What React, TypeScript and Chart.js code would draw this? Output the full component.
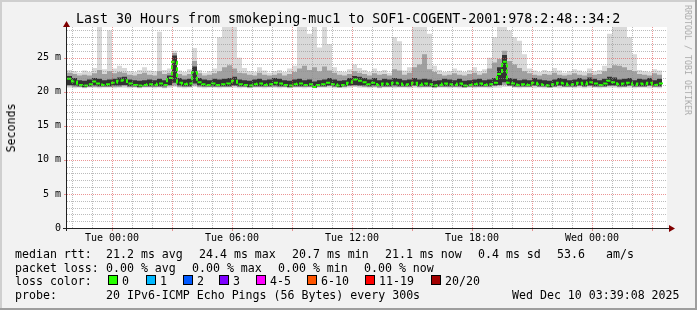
import React, { useEffect, useRef } from "react";
import { Chart, registerables } from "chart.js";

Chart.register(...registerables);

// time axis: hours relative to Tue 00:00, one sample every 15 minutes
const T0 = -2.25;
const STEP = 0.25;

// median round trip time (ms)
const medianRtt = [
  21.9, 21.5, 21.0, 20.9, 21.1, 21.5, 21.2, 21.0, 21.1, 21.3,
  21.6, 21.7, 21.2, 21.0, 20.9, 21.0, 21.1, 21.0, 21.2, 21.0,
  22.0, 24.4, 21.3, 21.1, 21.2, 22.9, 21.4, 21.1, 21.0, 21.2,
  21.0, 21.1, 21.2, 21.6, 21.1, 21.0, 20.9, 21.1, 21.2, 21.0,
  21.1, 21.3, 21.2, 21.0, 20.9, 21.1, 21.2, 21.0, 21.1, 20.7,
  21.0, 21.1, 21.3, 21.1, 20.9, 21.0, 21.3, 21.8, 21.6, 21.4,
  21.1, 21.3, 21.0, 21.2, 21.1, 21.3, 21.2, 21.0, 21.1, 21.3,
  21.0, 21.2, 21.1, 20.9, 21.0, 21.2, 21.1, 21.0, 21.2, 20.9,
  21.0, 21.1, 21.2, 21.0, 21.1, 21.3, 22.6, 24.4, 21.3, 21.2,
  21.0, 21.1, 21.0, 21.3, 21.1, 21.0, 20.9, 21.1, 21.3, 21.2,
  21.0, 21.1, 21.3, 21.1, 21.4, 21.2, 21.0, 21.2, 21.6, 21.4,
  21.1, 21.2, 21.3, 21.0, 21.2, 21.1, 21.3, 21.0, 21.2, 21.1,
];

// smoke: fastest / slowest ping of each round (ms)
const minRtt = [
  20.6, 20.5, 20.6, 20.5, 20.6, 20.6, 20.5, 20.6, 20.6, 20.5,
  20.6, 20.6, 20.5, 20.6, 20.5, 20.6, 20.6, 20.5, 20.6, 20.5,
  20.6, 20.7, 20.6, 20.5, 20.6, 20.7, 20.6, 20.5, 20.6, 20.6,
  20.5, 20.6, 20.6, 20.6, 20.5, 20.6, 20.5, 20.6, 20.6, 20.5,
  20.6, 20.6, 20.5, 20.6, 20.5, 20.6, 20.6, 20.5, 20.6, 20.5,
  20.6, 20.6, 20.6, 20.5, 20.6, 20.5, 20.6, 20.7, 20.6, 20.6,
  20.5, 20.6, 20.5, 20.6, 20.6, 20.5, 20.6, 20.6, 20.5, 20.6,
  20.5, 20.6, 20.6, 20.5, 20.6, 20.6, 20.5, 20.6, 20.5, 20.6,
  20.6, 20.5, 20.6, 20.6, 20.5, 20.6, 20.6, 20.7, 20.8, 20.6,
  20.5, 20.6, 20.6, 20.5, 20.6, 20.5, 20.6, 20.6, 20.5, 20.6,
  20.6, 20.5, 20.6, 20.5, 20.6, 20.6, 20.5, 20.6, 20.6, 20.6,
  20.5, 20.6, 20.6, 20.5, 20.6, 20.6, 20.5, 20.6, 20.5, 20.6,
];
const maxRtt = [
  23.2, 23.0, 22.8, 23.1, 22.9, 23.5, 29.5, 23.3, 29.0, 23.4,
  23.8, 23.5, 23.0, 22.9, 23.2, 23.6, 23.1, 23.0, 28.8, 23.2,
  23.4, 26.0, 23.1, 22.9, 23.3, 26.4, 23.2, 22.8, 23.0, 23.4,
  28.0, 29.5, 29.5, 29.5, 25.0, 23.5, 23.0, 22.9, 23.6, 23.1,
  22.8, 23.0, 23.2, 22.9, 23.4, 23.8, 29.5, 29.5, 28.5, 29.5,
  26.5, 29.5, 27.0, 23.6, 23.0, 22.9, 23.3, 24.0, 23.5, 23.2,
  22.9, 23.4, 23.0, 23.2, 22.8, 28.0, 27.4, 23.1, 23.6, 29.5,
  29.5, 29.5, 28.5, 23.8, 23.2, 22.9, 23.0, 23.4, 23.1, 22.9,
  23.2, 23.6, 23.0, 23.3, 25.0, 28.0, 29.5, 29.5, 29.0, 28.0,
  27.5, 25.5, 23.4, 23.1, 22.9, 23.2, 23.0, 23.5, 23.1, 22.8,
  23.0, 23.3, 23.1, 22.9, 23.4, 23.0, 23.2, 23.8, 28.5, 29.5,
  29.5, 29.5, 28.0, 25.5, 23.2, 23.0, 22.9, 23.3, 23.1, 24.0,
];
// smoke: middle band (ms)
const loMid = [
  20.8, 20.7, 20.7, 20.6, 20.7, 20.7, 20.7, 20.7, 20.7, 20.7,
  20.7, 20.8, 20.7, 20.7, 20.6, 20.7, 20.7, 20.7, 20.7, 20.6,
  20.8, 20.9, 20.7, 20.7, 20.7, 20.9, 20.7, 20.7, 20.7, 20.7,
  20.7, 20.7, 20.7, 20.8, 20.7, 20.7, 20.6, 20.7, 20.7, 20.7,
  20.7, 20.7, 20.7, 20.7, 20.6, 20.7, 20.7, 20.7, 20.7, 20.6,
  20.7, 20.7, 20.8, 20.7, 20.6, 20.7, 20.8, 20.8, 20.8, 20.7,
  20.7, 20.7, 20.6, 20.7, 20.7, 20.7, 20.7, 20.7, 20.7, 20.8,
  20.7, 20.7, 20.7, 20.6, 20.7, 20.7, 20.7, 20.7, 20.7, 20.6,
  20.7, 20.7, 20.7, 20.7, 20.7, 20.8, 20.9, 21.0, 20.8, 20.7,
  20.7, 20.7, 20.7, 20.8, 20.7, 20.7, 20.6, 20.7, 20.8, 20.7,
  20.7, 20.7, 20.8, 20.7, 20.8, 20.7, 20.7, 20.7, 20.8, 20.8,
  20.7, 20.7, 20.8, 20.7, 20.7, 20.7, 20.8, 20.7, 20.7, 20.7,
];
const hiMid = [
  22.8, 22.6, 22.4, 22.5, 22.4, 22.7, 23.2, 22.6, 23.0, 22.7,
  22.9, 22.8, 22.5, 22.4, 22.6, 22.8, 22.5, 22.4, 23.0, 22.6,
  22.8, 25.7, 22.6, 22.4, 22.6, 24.5, 22.7, 22.4, 22.5, 22.7,
  23.0, 23.6, 23.9, 23.4, 22.8, 22.7, 22.5, 22.4, 22.8, 22.5,
  22.4, 22.5, 22.7, 22.4, 22.6, 22.9, 23.4, 23.8, 23.2, 23.6,
  23.0, 23.7, 23.1, 22.8, 22.5, 22.4, 22.6, 23.0, 22.8, 22.6,
  22.4, 22.7, 22.5, 22.6, 22.4, 23.3, 23.1, 22.5, 22.8, 23.6,
  24.0, 25.5, 23.3, 22.9, 22.6, 22.4, 22.5, 22.7, 22.5, 22.4,
  22.6, 22.8, 22.5, 22.7, 23.4, 24.3, 24.8, 26.0, 24.5, 24.0,
  23.5, 23.0, 22.7, 22.5, 22.4, 22.6, 22.5, 22.8, 22.5, 22.4,
  22.5, 22.7, 22.5, 22.4, 22.7, 22.5, 22.6, 23.0, 23.5, 23.9,
  23.8, 23.6, 23.2, 23.0, 22.6, 22.5, 22.4, 22.7, 22.5, 23.0,
];
// smoke: dense inner band (ms)
const loIn = [
  21.0, 20.9, 20.8, 20.7, 20.8, 20.9, 20.8, 20.8, 20.8, 20.9,
  20.9, 21.0, 20.8, 20.8, 20.7, 20.8, 20.8, 20.8, 20.8, 20.8,
  21.0, 21.3, 20.9, 20.8, 20.8, 21.2, 20.9, 20.8, 20.8, 20.8,
  20.8, 20.8, 20.8, 20.9, 20.8, 20.8, 20.7, 20.8, 20.8, 20.8,
  20.8, 20.9, 20.8, 20.8, 20.7, 20.8, 20.8, 20.8, 20.8, 20.6,
  20.8, 20.8, 20.9, 20.8, 20.7, 20.8, 20.9, 21.0, 20.9, 20.9,
  20.8, 20.9, 20.8, 20.8, 20.8, 20.9, 20.8, 20.8, 20.8, 20.9,
  20.8, 20.8, 20.8, 20.7, 20.8, 20.8, 20.8, 20.8, 20.8, 20.7,
  20.8, 20.8, 20.8, 20.8, 20.8, 20.9, 21.0, 21.4, 20.9, 20.8,
  20.8, 20.8, 20.8, 20.9, 20.8, 20.8, 20.7, 20.8, 20.9, 20.8,
  20.8, 20.8, 20.9, 20.8, 20.9, 20.8, 20.8, 20.8, 20.9, 20.9,
  20.8, 20.8, 20.9, 20.8, 20.8, 20.8, 20.9, 20.8, 20.8, 20.8,
];
const hiIn = [
  22.3, 22.0, 21.7, 21.6, 21.8, 22.0, 21.9, 21.7, 21.8, 21.9,
  22.1, 22.2, 21.8, 21.7, 21.6, 21.7, 21.8, 21.7, 21.9, 21.7,
  22.4, 25.3, 22.0, 21.8, 21.9, 23.7, 22.0, 21.8, 21.7, 21.9,
  21.8, 21.9, 22.0, 22.2, 21.8, 21.7, 21.6, 21.8, 21.9, 21.7,
  21.8, 22.0, 21.9, 21.7, 21.6, 21.8, 21.9, 21.7, 21.8, 21.5,
  21.7, 21.8, 22.0, 21.8, 21.6, 21.7, 22.0, 22.3, 22.2, 22.0,
  21.8, 22.0, 21.7, 21.9, 21.8, 22.0, 21.9, 21.7, 21.8, 22.0,
  21.8, 21.9, 21.8, 21.6, 21.7, 21.9, 21.8, 21.7, 21.9, 21.6,
  21.7, 21.8, 21.9, 21.7, 21.8, 22.0, 23.6, 25.4, 22.0, 21.9,
  21.7, 21.8, 21.7, 22.0, 21.8, 21.7, 21.6, 21.8, 22.0, 21.9,
  21.7, 21.8, 22.0, 21.8, 22.1, 21.9, 21.7, 21.9, 22.2, 22.1,
  21.8, 21.9, 22.0, 21.7, 21.9, 21.8, 22.0, 21.7, 21.9, 21.8,
];

const xTickHours = [0, 6, 12, 18, 24];
const xTickLabels = ["Tue 00:00", "Tue 06:00", "Tue 12:00", "Tue 18:00", "Wed 00:00"];
const yTickValues = [0, 5, 10, 15, 20, 25];
const yTickLabels = ["0", "5 m", "10 m", "15 m", "20 m", "25 m"];

const lossLabels = ["0", "1", "2", "3", "4-5", "6-10", "11-19", "20/20"];
const lossColors = ["#26ff00", "#00b8ff", "#0059ff", "#7e00ff", "#ff00ff", "#ff5500", "#ff0000", "#a10000"];

const titleText = "Last 30 Hours from smokeping-muc1 to SOF1-COGENT-2001:978:2:48::34:2";
const statLine1 = ["median rtt:", "21.2 ms avg", "24.4 ms max", "20.7 ms min", "21.1 ms now", "0.4 ms sd", "53.6", "am/s"];
const statLine2 = ["packet loss:", "0.00 % avg", "0.00 % max", "0.00 % min", "0.00 % now"];
const probeLine = ["probe:", "20 IPv6-ICMP Echo Pings (56 Bytes) every 300s", "Wed Dec 10 03:39:08 2025"];

// layout (pixels)
const W = 697;
const H = 310;
const line1X = [15, 106, 199, 292, 385, 478, 557, 606];
const line2X = [15, 106, 192, 278, 364];
const boxX = [108, 145.7, 182.7, 219.3, 256, 307.3, 365, 430.7];
const probeX = [15, 106, 512];

const MONO = '"DejaVu Sans Mono", monospace';
const GRID = "rgba(143,143,143,0.6)";
const MGRID = "rgba(222,79,79,0.6)";

const rrdPlugin = {
  id: "rrdLook",
  beforeDraw(chart: any) {
    const { ctx, chartArea: a } = chart;
    ctx.save();
    ctx.fillStyle = "#f2f2f2";
    ctx.fillRect(0, 0, W, H);
    ctx.fillStyle = "#cfcfcf";
    ctx.fillRect(0, 0, W, 2);
    ctx.fillRect(0, 0, 2, H);
    ctx.fillStyle = "#9e9e9e";
    ctx.fillRect(0, H - 2, W, 2);
    ctx.fillRect(W - 2, 0, 2, H);
    ctx.fillStyle = "#ffffff";
    ctx.fillRect(a.left, a.top, a.right - a.left, a.bottom - a.top);
    ctx.restore();
  },
  afterDatasetsDraw(chart: any) {
    const { ctx, chartArea: a } = chart;
    const xs = chart.scales.x;
    const ys = chart.scales.y;
    ctx.save();
    ctx.lineWidth = 1;
    // vertical grid: every hour, major every 3 hours
    for (let h = Math.ceil(xs.min); h <= xs.max; h++) {
      const px = Math.round(xs.getPixelForValue(h)) + 0.5;
      const major = ((h % 3) + 3) % 3 === 0;
      ctx.setLineDash([1, 1]);
      ctx.strokeStyle = major ? MGRID : GRID;
      ctx.beginPath();
      ctx.moveTo(px, a.bottom);
      ctx.lineTo(px, a.top);
      ctx.stroke();
      if (major) {
        ctx.setLineDash([]);
        ctx.beginPath();
        ctx.moveTo(px, a.bottom);
        ctx.lineTo(px, a.bottom + 3);
        ctx.stroke();
      }
    }
    // horizontal grid: every 1 ms, major every 5 ms
    for (let v = 1; v <= ys.max; v++) {
      const py = Math.round(ys.getPixelForValue(v)) + 0.5;
      const major = v % 5 === 0;
      ctx.setLineDash([1, 1]);
      ctx.strokeStyle = major ? MGRID : GRID;
      ctx.beginPath();
      ctx.moveTo(a.left, py);
      ctx.lineTo(a.right, py);
      ctx.stroke();
      if (major) {
        ctx.setLineDash([]);
        ctx.beginPath();
        ctx.moveTo(a.left - 3, py);
        ctx.lineTo(a.left, py);
        ctx.stroke();
      }
    }
    ctx.setLineDash([]);
    // axes
    const ax = Math.round(a.left) - 0.5;
    const ay = Math.round(a.bottom) + 0.5;
    ctx.strokeStyle = "#212121";
    ctx.beginPath();
    ctx.moveTo(a.left - 4, ay);
    ctx.lineTo(a.right + 5, ay);
    ctx.moveTo(ax, a.bottom + 3);
    ctx.lineTo(ax, a.top - 3);
    ctx.stroke();
    // arrows
    ctx.fillStyle = "#800000";
    ctx.beginPath();
    ctx.moveTo(a.right + 2, ay - 3.5);
    ctx.lineTo(a.right + 8, ay);
    ctx.lineTo(a.right + 2, ay + 3.5);
    ctx.closePath();
    ctx.fill();
    ctx.beginPath();
    ctx.moveTo(ax - 3.5, a.top);
    ctx.lineTo(ax, a.top - 6);
    ctx.lineTo(ax + 3.5, a.top);
    ctx.closePath();
    ctx.fill();
    ctx.restore();
  },
};

const textBase: React.CSSProperties = {
  position: "absolute",
  whiteSpace: "pre",
  fontFamily: MONO,
  fontSize: "11.6px",
  lineHeight: "14px",
  color: "#000",
  margin: 0,
};

export default function App() {
  const ref = useRef<HTMLCanvasElement>(null);

  useEffect(() => {
    const canvas = ref.current;
    if (!canvas) return;
    const xs = medianRtt.map((_, i) => T0 + i * STEP);
    const pts = (arr: number[]) => arr.map((v, i) => ({ x: xs[i], y: v }));
    const band = (arr: number[], color: string, target: number | false) => ({
      data: pts(arr),
      borderWidth: 0,
      borderColor: "rgba(0,0,0,0)",
      backgroundColor: color,
      pointRadius: 0,
      stepped: true,
      fill: target,
    });
    const chart = new Chart(canvas, {
      type: "line",
      data: {
        datasets: [
          {
            data: pts(medianRtt),
            borderColor: lossColors[0],
            borderWidth: 2,
            borderDash: [4, 2],
            pointRadius: 0,
            stepped: true,
            fill: false,
          } as any,
          band(hiIn, "#333333", 2),
          band(loIn, "#333333", false),
          band(hiMid, "#a0a0a0", 4),
          band(loMid, "#a0a0a0", false),
          band(maxRtt, "#d9d9d9", 6),
          band(minRtt, "#d9d9d9", false),
        ],
      },
      options: {
        animation: false,
        responsive: false,
        devicePixelRatio: 1,
        events: [],
        layout: { padding: { left: 0, right: 30, top: 27, bottom: 0 } },
        plugins: {
          legend: { display: false },
          tooltip: { enabled: false },
          title: { display: false },
        },
        scales: {
          x: {
            type: "linear",
            min: -2.25,
            max: 27.75,
            grid: { display: false, drawTicks: false, tickLength: 0 },
            border: { display: false },
            afterBuildTicks: (s: any) => {
              s.ticks = xTickHours.map((v) => ({ value: v }));
            },
            afterFit: (s: any) => {
              s.height = 82;
            },
            ticks: {
              autoSkip: false,
              maxRotation: 0,
              minRotation: 0,
              padding: 4,
              color: "#000",
              font: { family: MONO, size: 10 },
              callback: (v: any) => {
                const k = xTickHours.indexOf(Number(v));
                return k >= 0 ? xTickLabels[k] : "";
              },
            },
          },
          y: {
            type: "linear",
            min: 0,
            max: 29.5,
            grid: { display: false, drawTicks: false, tickLength: 0 },
            border: { display: false },
            afterBuildTicks: (s: any) => {
              s.ticks = yTickValues.map((v) => ({ value: v }));
            },
            afterFit: (s: any) => {
              s.width = 67;
            },
            ticks: {
              padding: 6,
              color: "#000",
              font: { family: MONO, size: 10 },
              callback: (v: any) => {
                const k = yTickValues.indexOf(Number(v));
                return k >= 0 ? yTickLabels[k] : "";
              },
            },
          },
        },
      } as any,
      plugins: [rrdPlugin],
    });
    return () => chart.destroy();
  }, []);

  const lineTops = [247.3, 260.8, 274.3, 287.8];

  return (
    <div
      style={{
        position: "fixed",
        left: 0,
        top: 0,
        width: W,
        height: H,
        overflow: "hidden",
        background: "#f2f2f2",
      }}
    >
      <canvas
        ref={ref}
        width={W}
        height={H}
        style={{ position: "absolute", left: 0, top: 0, width: W, height: H }}
      />
      <div style={{ ...textBase, left: 76, top: 11.4, fontSize: "13.3px", lineHeight: "16px" }}>{titleText}</div>
      <div
        style={{
          ...textBase,
          left: 10.8,
          top: 127.5,
          transform: "translate(-50%, -50%) rotate(-90deg)",
        }}
      >
        Seconds
      </div>
      <div
        style={{
          ...textBase,
          left: 688.3,
          top: 60,
          fontSize: "8.3px",
          lineHeight: "10px",
          color: "#ababab",
          transform: "translate(-50%, -50%) rotate(90deg)",
        }}
      >
        RRDTOOL / TOBI OETIKER
      </div>
      {statLine1.map((t, i) => (
        <div key={"a" + i} style={{ ...textBase, left: line1X[i], top: lineTops[0] }}>{t}</div>
      ))}
      {statLine2.map((t, i) => (
        <div key={"b" + i} style={{ ...textBase, left: line2X[i], top: lineTops[1] }}>{t}</div>
      ))}
      <div style={{ ...textBase, left: 15, top: lineTops[2] }}>loss color:</div>
      {lossLabels.map((t, i) => (
        <React.Fragment key={"c" + i}>
          <div
            style={{
              position: "absolute",
              left: Math.round(boxX[i]),
              top: 275,
              width: 10,
              height: 10,
              boxSizing: "border-box",
              border: "1px solid #000",
              background: lossColors[i],
            }}
          />
          <div style={{ ...textBase, left: Math.round(boxX[i]) + 14, top: lineTops[2] }}>{t}</div>
        </React.Fragment>
      ))}
      {probeLine.map((t, i) => (
        <div key={"d" + i} style={{ ...textBase, left: probeX[i], top: lineTops[3] }}>{t}</div>
      ))}
    </div>
  );
}
